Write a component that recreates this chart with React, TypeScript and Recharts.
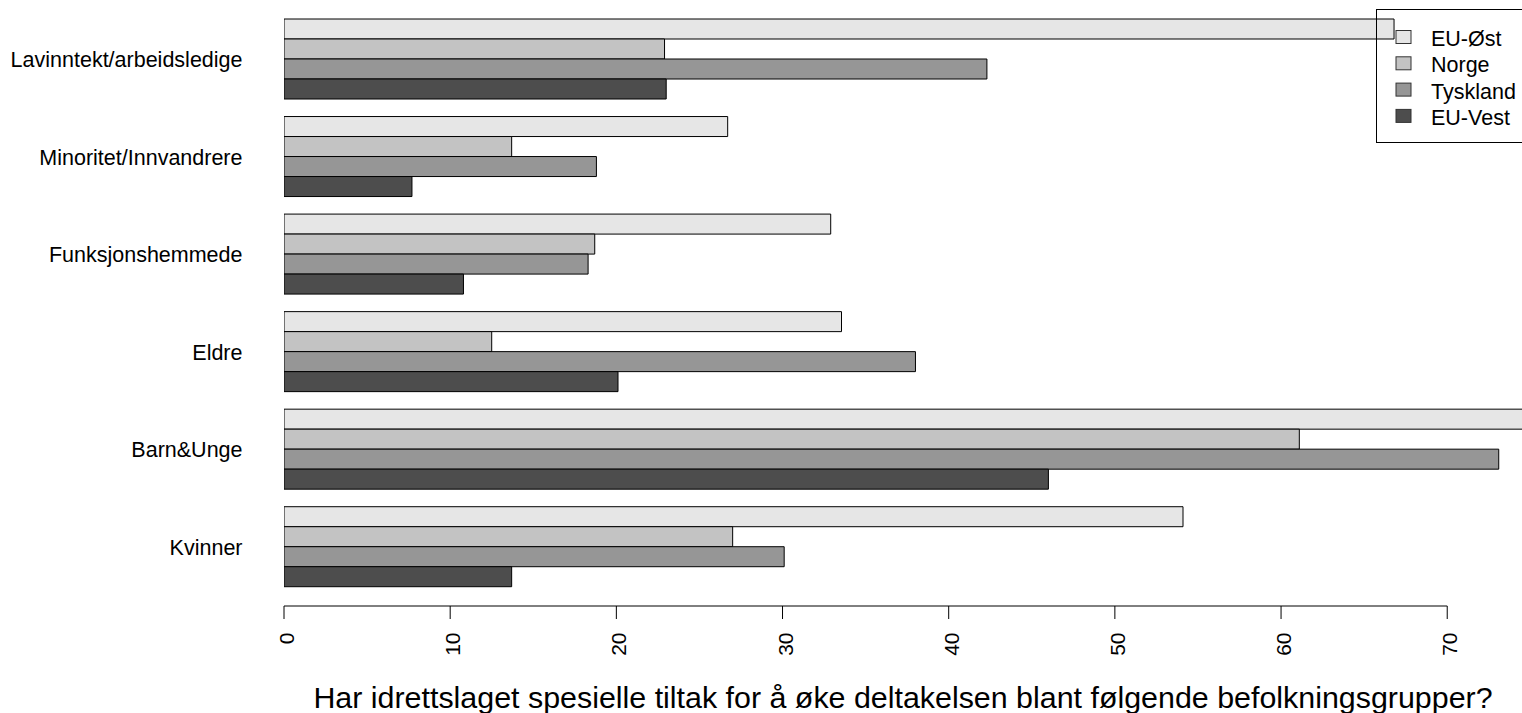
import { BarChart, Bar, XAxis, YAxis, Legend } from 'recharts';

// Data (percent)
const CATEGORIES = [
  'Lavinntekt/arbeidsledige',
  'Minoritet/Innvandrere',
  'Funksjonshemmede',
  'Eldre',
  'Barn&Unge',
  'Kvinner',
];
const EU_OST = [66.8, 26.7, 32.9, 33.55, 78, 54.1];
const NORGE = [22.9, 13.7, 18.7, 12.5, 61.1, 27.0];
const TYSKLAND = [42.3, 18.8, 18.3, 38.0, 73.1, 30.1];
const EU_VEST = [23.0, 7.7, 10.8, 20.1, 46.0, 13.7];
const SERIES_NAMES = ['EU-Øst', 'Norge', 'Tyskland', 'EU-Vest'];
const X_TICKS = [0, 10, 20, 30, 40, 50, 60, 70];
const TITLE =
  'Har idrettslaget spesielle tiltak for å øke deltakelsen blant følgende befolkningsgrupper?';

const COLORS = ['#E6E6E6', '#C3C3C3', '#969696', '#4D4D4D'];
const FONT = '"Liberation Sans", Arial, sans-serif';

const W = 1522;
const H = 713;
const Y_AXIS_W = 284;
const X_AXIS_H = 107;
const X_MAX = 74.5;
const PX_PER_UNIT = (W - Y_AXIS_W) / X_MAX;

const data = CATEGORIES.map((name, i) => ({
  name,
  ost: EU_OST[i],
  norge: NORGE[i],
  tyskland: TYSKLAND[i],
  vest: EU_VEST[i],
}));

function XTick(props: any) {
  const { x, y, payload } = props;
  const first = payload.value === X_TICKS[0];
  const span = (X_TICKS[X_TICKS.length - 1] - X_TICKS[0]) * PX_PER_UNIT;
  return (
    <g>
      {first && <line x1={x} x2={x + span} y1={y} y2={y} stroke="#000" />}
      <line x1={x} x2={x} y1={y} y2={y + 13} stroke="#000" />
      <text
        transform={`translate(${x + 10},${y + 26.5}) rotate(-90)`}
        textAnchor="end"
        fontSize={21}
        fontFamily={FONT}
        fill="#000"
      >
        {payload.value}
      </text>
    </g>
  );
}

function YTick(props: any) {
  const { x, y, payload } = props;
  return (
    <text x={x} y={y + 9} textAnchor="end" fontSize={21.5} fontFamily={FONT} fill="#000">
      {payload.value}
    </text>
  );
}

function TitleLabel(props: any) {
  const vb = props.viewBox;
  return (
    <text
      x={vb.x + vb.width / 2}
      y={vb.y + vb.height - 5.5}
      textAnchor="middle"
      fontSize={30.4}
      fontFamily={FONT}
      fill="#000"
    >
      {TITLE}
    </text>
  );
}

// legend keeps the series order of the reference (top to bottom)
function LegendBox() {
  return (
    <svg width={160} height={135} style={{ display: 'block', overflow: 'visible' }}>
      <rect x={0.5} y={0.5} width={170} height={133} fill="none" stroke="#000" />
      {SERIES_NAMES.map((name, i) => {
        const cy = 28 + i * 26.3;
        return (
          <g key={name}>
            <rect x={20} y={cy - 6.5} width={15} height={13} fill={COLORS[i]} stroke="#333" />
            <text x={55} y={cy + 9} fontSize={21.5} fontFamily={FONT} fill="#000">
              {name}
            </text>
          </g>
        );
      })}
    </svg>
  );
}

export default function App() {
  return (
    <div
      style={{
        position: 'absolute',
        left: 0,
        top: 0,
        width: W,
        height: H,
        overflow: 'hidden',
        background: '#fff',
      }}
    >
      <BarChart
        width={W}
        height={H}
        data={data}
        layout="vertical"
        margin={{ top: 9.25, right: 0, bottom: 0, left: 0 }}
        barCategoryGap="10%"
        barGap={0}
      >
        <XAxis
          type="number"
          domain={[0, X_MAX]}
          allowDataOverflow
          ticks={X_TICKS}
          interval={0}
          height={X_AXIS_H}
          axisLine={false}
          tickLine={false}
          tickSize={0}
          tickMargin={0}
          tick={<XTick />}
          label={{ content: <TitleLabel /> }}
        />
        <YAxis
          type="category"
          dataKey="name"
          width={Y_AXIS_W}
          axisLine={false}
          tickLine={false}
          tickSize={0}
          tickMargin={41.5}
          interval={0}
          padding={{ top: 0, bottom: 11.5 }}
          tick={<YTick />}
        />
        <Legend
          layout="horizontal"
          verticalAlign="middle"
          align="center"
          content={<LegendBox />}
          wrapperStyle={{ position: 'absolute', left: 1376, top: 9, width: 160, height: 135 }}
        />
        <Bar dataKey="ost" name={SERIES_NAMES[0]} fill={COLORS[0]} stroke="#000" isAnimationActive={false} />
        <Bar dataKey="norge" name={SERIES_NAMES[1]} fill={COLORS[1]} stroke="#000" isAnimationActive={false} />
        <Bar dataKey="tyskland" name={SERIES_NAMES[2]} fill={COLORS[2]} stroke="#000" isAnimationActive={false} />
        <Bar dataKey="vest" name={SERIES_NAMES[3]} fill={COLORS[3]} stroke="#000" isAnimationActive={false} />
      </BarChart>
    </div>
  );
}
